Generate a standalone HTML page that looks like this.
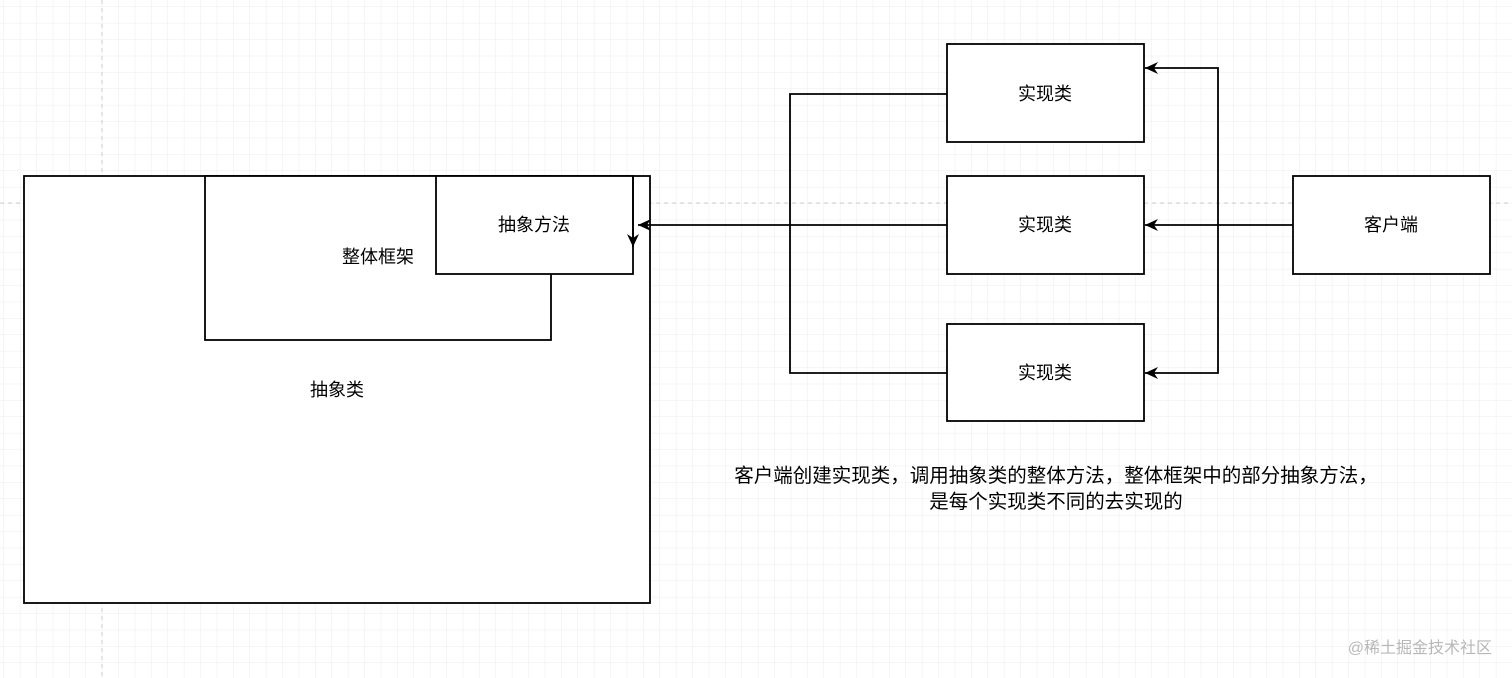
<!DOCTYPE html>
<html><head><meta charset="utf-8"><style>
body{margin:0;width:1512px;height:678px;overflow:hidden;background:#fff;font-family:"Liberation Sans","Noto Sans CJK SC",sans-serif;}
</style></head><body>
<svg width="1512" height="678" xmlns="http://www.w3.org/2000/svg" style="position:absolute;left:0;top:0">
<defs>
<pattern id="g" width="16.4" height="16.4" patternUnits="userSpaceOnUse" x="4" y="7">
<path d="M16.4 0V16.4M0 16.4H16.4" stroke="#ececec" stroke-width="1" fill="none"/>
</pattern>
<marker id="a" markerWidth="14" markerHeight="14" refX="13" refY="6" orient="auto" markerUnits="userSpaceOnUse">
<path d="M0 0L13 6L0 12L4 6Z" fill="#000"/>
</marker>
</defs>
<rect width="1512" height="678" fill="url(#g)"/>
<line x1="102" y1="0" x2="102" y2="678" stroke="#ccc" stroke-dasharray="4 4"/>
<line x1="0" y1="203" x2="1512" y2="203" stroke="#ccc" stroke-dasharray="4 4"/>
<g fill="#fff" stroke="#000" stroke-width="1.8">
<rect x="24" y="176" width="626" height="427"/>
<rect x="205" y="176" width="346" height="164"/>
<rect x="436" y="176" width="197" height="98"/>
<rect x="947" y="44" width="197" height="98"/>
<rect x="947" y="176" width="197" height="98"/>
<rect x="947" y="324" width="197" height="97"/>
<rect x="1293" y="176" width="197" height="98"/>
</g>
<g fill="none" stroke="#000" stroke-width="1.8">
<line x1="633" y1="176" x2="633" y2="247" marker-end="url(#a)"/>
<line x1="947" y1="225" x2="638" y2="225" marker-end="url(#a)"/>
<polyline points="947,94 790,94 790,373 947,373"/>
<line x1="1293" y1="225" x2="1145" y2="225" marker-end="url(#a)"/>
<polyline points="1218,225 1218,68 1145,68" marker-end="url(#a)"/>
<polyline points="1218,225 1218,373 1145,373" marker-end="url(#a)"/>
</g>
<g font-size="18" text-anchor="middle" fill="#000">
<text x="534" y="231">抽象方法</text>
<text x="378" y="263">整体框架</text>
<text x="337" y="396">抽象类</text>
<text x="1045" y="100">实现类</text>
<text x="1045" y="231">实现类</text>
<text x="1045" y="379">实现类</text>
<text x="1391" y="231">客户端</text>
</g>
<g font-size="19.5" text-anchor="middle" fill="#000">
<text x="1056" y="482">客户端创建实现类，调用抽象类的整体方法，整体框架中的部分抽象方法，</text>
<text x="1056" y="508">是每个实现类不同的去实现的</text>
</g>
<text x="1492" y="653" font-size="16" text-anchor="end" fill="#b8b8b8">@稀土掘金技术社区</text>
</svg>
</body></html>
